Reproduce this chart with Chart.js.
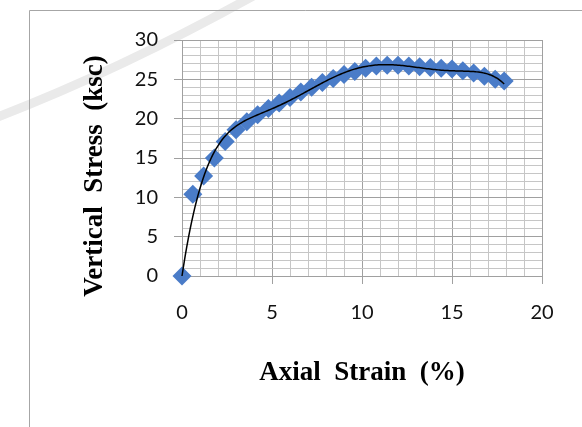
<!DOCTYPE html>
<html>
<head>
<meta charset="utf-8">
<script src="https://cdn.jsdelivr.net/npm/chart.js@4/dist/chart.umd.min.js"></script>
<style>
  html, body { margin: 0; padding: 0; background: #fff; }
  #c { display: block; }
</style>
</head>
<body>
<canvas id="c" width="582" height="427"></canvas>
<script>
// Axial strain (%) of each reading
const strain = [0, 0.6, 1.2, 1.8, 2.4, 3.0, 3.6, 4.2, 4.8, 5.4, 6.0, 6.6, 7.2, 7.8, 8.4,
                9.0, 9.6, 10.2, 10.8, 11.4, 12.0, 12.6, 13.2, 13.8, 14.4, 15.0, 15.6,
                16.2, 16.8, 17.4, 17.9];
// Vertical stress (ksc) of each reading
const stress = [0, 10.4, 12.7, 15.0, 17.1, 18.6, 19.6, 20.5, 21.3, 22.0, 22.7, 23.4, 24.0,
                24.6, 25.1, 25.6, 26.0, 26.4, 26.7, 26.8, 26.8, 26.7, 26.6, 26.5, 26.4,
                26.3, 26.1, 25.8, 25.4, 25.0, 24.8];
// Axis ranges and labelled tick values
const xTickLabels = [0, 5, 10, 15, 20];
const yTickLabels = [0, 5, 10, 15, 20, 25, 30];
const xTitle = 'Axial  Strain  (%)';
const yTitle = 'Vertical  Stress  (ksc)';
const trendDegree = 6;

// Least-squares polynomial trendline with the intercept fixed at zero
function polyFitThroughOrigin(xs, ys, degree, scale) {
  const n = degree;
  const A = Array.from({ length: n }, () => new Array(n + 1).fill(0));
  for (let k = 0; k < xs.length; k++) {
    const u = xs[k] / scale;
    const pw = [];
    for (let i = 1; i <= n; i++) pw.push(Math.pow(u, i));
    for (let i = 0; i < n; i++) {
      for (let j = 0; j < n; j++) A[i][j] += pw[i] * pw[j];
      A[i][n] += pw[i] * ys[k];
    }
  }
  for (let c = 0; c < n; c++) {
    let p = c;
    for (let r = c + 1; r < n; r++) if (Math.abs(A[r][c]) > Math.abs(A[p][c])) p = r;
    [A[c], A[p]] = [A[p], A[c]];
    for (let r = 0; r < n; r++) {
      if (r === c) continue;
      const f = A[r][c] / A[c][c];
      for (let j = c; j <= n; j++) A[r][j] -= f * A[c][j];
    }
  }
  const coef = A.map((row, i) => row[n] / row[i]);
  return x => {
    const u = x / scale;
    let s = 0;
    for (let i = 0; i < n; i++) s += coef[i] * Math.pow(u, i + 1);
    return s;
  };
}

const fit = polyFitThroughOrigin(strain, stress, trendDegree, 20);
const xEnd = strain[strain.length - 1];
const trend = [];
for (let i = 0; i <= 200; i++) {
  const x = xEnd * i / 200;
  trend.push({ x, y: fit(x) });
}

const points = strain.map((x, i) => ({ x, y: stress[i] }));

const MAJOR = '#A0A0A0';
const MINOR = '#C6C6C6';

// Frame, faint backdrop arc and the two axis titles
const decorations = {
  id: 'decorations',
  beforeDraw(chart) {
    const ctx = chart.ctx;
    ctx.save();
    ctx.fillStyle = '#fff';
    ctx.fillRect(0, 0, chart.width, chart.height);
    ctx.strokeStyle = '#EAEAEA';
    ctx.lineWidth = 9;
    ctx.beginPath();
    ctx.moveTo(-5, 118);
    ctx.quadraticCurveTo(120, 70, 255, -5);
    ctx.stroke();
    ctx.strokeStyle = '#A6A6A6';
    ctx.lineWidth = 1;
    ctx.beginPath();
    ctx.moveTo(29.5, chart.height);
    ctx.lineTo(29.5, 10.5);
    ctx.lineTo(chart.width, 10.5);
    ctx.stroke();
    ctx.restore();
  },
  afterDraw(chart) {
    const ctx = chart.ctx;
    const a = chart.chartArea;
    ctx.save();
    ctx.fillStyle = '#000';
    ctx.font = 'bold 27px "Liberation Serif"';
    ctx.textAlign = 'center';
    ctx.textBaseline = 'middle';
    ctx.fillText(xTitle, (a.left + a.right) / 2, a.bottom + 97);
    ctx.translate(a.left - 87, a.top + 136);
    ctx.rotate(-Math.PI / 2);
    ctx.fillText(yTitle, 0, 0);
    ctx.restore();
  }
};

const isMajor = (ctx, list) => ctx.tick && list.includes(ctx.tick.value);

new Chart(document.getElementById('c'), {
  type: 'scatter',
  data: {
    datasets: [
      {
        type: 'line',
        data: trend,
        borderColor: '#000',
        borderWidth: 1.5,
        pointRadius: 0,
        tension: 0,
        order: 0,
        clip: false
      },
      {
        data: points,
        pointStyle: 'rectRot',
        pointRadius: 9.5,
        pointHoverRadius: 9.5,
        backgroundColor: '#4A7CC8',
        borderColor: '#4A7CC8',
        borderWidth: 0,
        order: 1,
        clip: false
      }
    ]
  },
  options: {
    responsive: false,
    animation: false,
    events: [],
    layout: { padding: { left: 0, top: 40, right: 40, bottom: 0 } },
    plugins: { legend: { display: false }, tooltip: { enabled: false } },
    scales: {
      x: {
        type: 'linear',
        min: xTickLabels[0],
        max: xTickLabels[xTickLabels.length - 1],
        afterFit(scale) { scale.height = 151; },
        ticks: {
          stepSize: 1,
          autoSkip: false,
          maxRotation: 0,
          padding: 17,
          color: '#111',
          font: { family: 'Lato', size: 20 },
          callback: v => (xTickLabels.includes(v) ? String(v) : '')
        },
        grid: {
          color: ctx => (isMajor(ctx, xTickLabels) ? MAJOR : MINOR),
          tickColor: ctx => (isMajor(ctx, xTickLabels) ? MAJOR : 'rgba(0,0,0,0)'),
          tickLength: 8,
          lineWidth: 1
        },
        border: { color: MAJOR }
      },
      y: {
        type: 'linear',
        min: yTickLabels[0],
        max: yTickLabels[yTickLabels.length - 1],
        afterFit(scale) { scale.width = 182; },
        ticks: {
          stepSize: 1,
          autoSkip: false,
          padding: 16,
          color: '#111',
          font: { family: 'Lato', size: 20 },
          callback: v => (yTickLabels.includes(v) ? String(v) : '')
        },
        grid: {
          color: ctx => (isMajor(ctx, yTickLabels) ? MAJOR : MINOR),
          tickColor: ctx => (isMajor(ctx, yTickLabels) ? MAJOR : 'rgba(0,0,0,0)'),
          tickLength: 8,
          lineWidth: 1
        },
        border: { color: MAJOR }
      }
    }
  },
  plugins: [decorations]
});
</script>
</body>
</html>
